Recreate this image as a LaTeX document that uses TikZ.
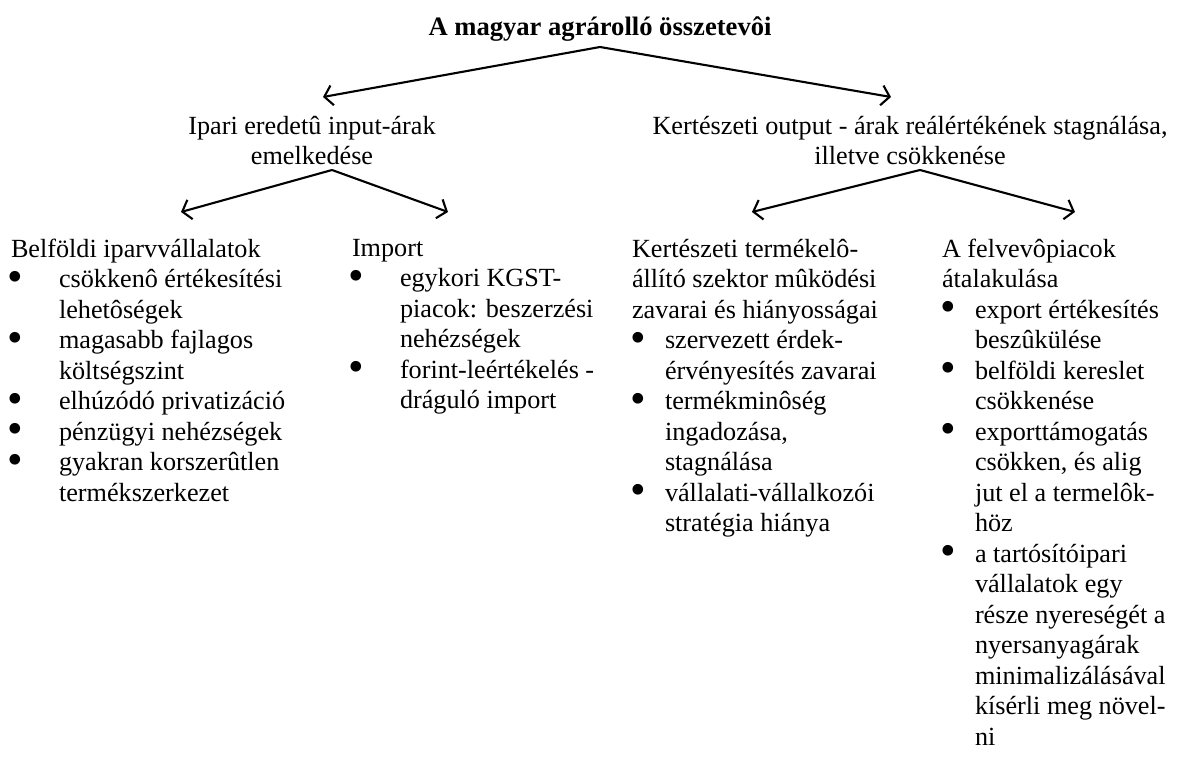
\documentclass[tikz,border=0pt]{standalone}
\usepackage{fontspec}
\setmainfont{Liberation Serif}
\usetikzlibrary{arrows.meta}
% bullet glyph, a little larger than the text bullet
\newcommand\bulletmark{\smash{\raisebox{-0.13em}{\scalebox{1.7}{\textbullet}}}}
% bulleted items with hanging indent (wide and narrow variants);
% lines inside an item are broken with \newline
\newcommand\bitemw[1]{\par\hangindent=48pt\hangafter=1\noindent
  \makebox[48pt][l]{\hspace{-4pt}\bulletmark}#1\par}
\newcommand\bitemn[1]{\par\hangindent=33pt\hangafter=1\noindent
  \makebox[33pt][l]{\hspace{-2pt}\bulletmark}#1\par}
\begin{document}
\begin{tikzpicture}[x=1pt,y=-1pt,
  txt/.style={inner sep=0pt, outer sep=0pt, font=\fontsize{26.2}{30.5}\selectfont},
  head/.style={txt, align=center, anchor=north},
  col/.style={txt, align=flush left, text width=300pt, anchor=north west},
  arr/.style={line width=2.1pt, -{Straight Barb[length=8pt,width=20pt,line width=2.1pt]}}]
\useasboundingbox (0,0) rectangle (1179,760);

% title and the two main causes
\node[txt, anchor=north, font=\fontsize{26.6}{30.5}\selectfont\bfseries] (title) at (600,17) {A magyar agrárolló összetevôi};
\node[head] (ipari) at (312,116) {Ipari eredetû input-árak\\emelkedése};
\node[head] (kert) at (910,116) {Kertészeti output - árak reálértékének stagnálása,\\illetve csökkenése};

% detailed factors
\node[col] (belf) at (11,239) {Belföldi iparvvállalatok
  \bitemw{csökkenô értékesítési\newline lehetôségek}
  \bitemw{magasabb fajlagos\newline költségszint}
  \bitemw{elhúzódó privatizáció}
  \bitemw{pénzügyi nehézségek}
  \bitemw{gyakran korszerûtlen\newline termékszerkezet}};
\node[col] (imp) at (352,239) {Import
  \bitemw{egykori KGST-\newline piacok: beszerzési\newline nehézségek}
  \bitemw{forint-leértékelés -\newline dráguló import}};
\node[col] (szek) at (632,239) {Kertészeti termékelô-\newline állító szektor mûködési\newline zavarai és hiányosságai
  \bitemn{szervezett érdek-\newline érvényesítés zavarai}
  \bitemn{termékminôség\newline ingadozása,\newline stagnálása}
  \bitemn{vállalati-vállalkozói\newline stratégia hiánya}};
\node[col] (felv) at (942,239) {A felvevôpiacok\newline átalakulása
  \bitemn{export értékesítés\newline beszûkülése}
  \bitemn{belföldi kereslet\newline csökkenése}
  \bitemn{exporttámogatás\newline csökken, és alig\newline jut el a termelôk-\newline höz}
  \bitemn{a tartósítóipari\newline vállalatok egy\newline része nyereségét a\newline nyersanyagárak\newline minimalizálásával\newline kísérli meg növel-\newline ni}};

% arrow start and end points
\coordinate (s0) at (600,47);
\coordinate (e0l) at (323,97);
\coordinate (e0r) at (891,97);
\coordinate (s1) at (332,170);
\coordinate (e1l) at (181,212);
\coordinate (e1r) at (448,212);
\coordinate (s2) at (920,170);
\coordinate (e2l) at (752,212);
\coordinate (e2r) at (1075,212);

\draw[arr] (s0) -- (e0l);
\draw[arr] (s0) -- (e0r);
\draw[arr] (s1) -- (e1l);
\draw[arr] (s1) -- (e1r);
\draw[arr] (s2) -- (e2l);
\draw[arr] (s2) -- (e2r);
\end{tikzpicture}
\end{document}
